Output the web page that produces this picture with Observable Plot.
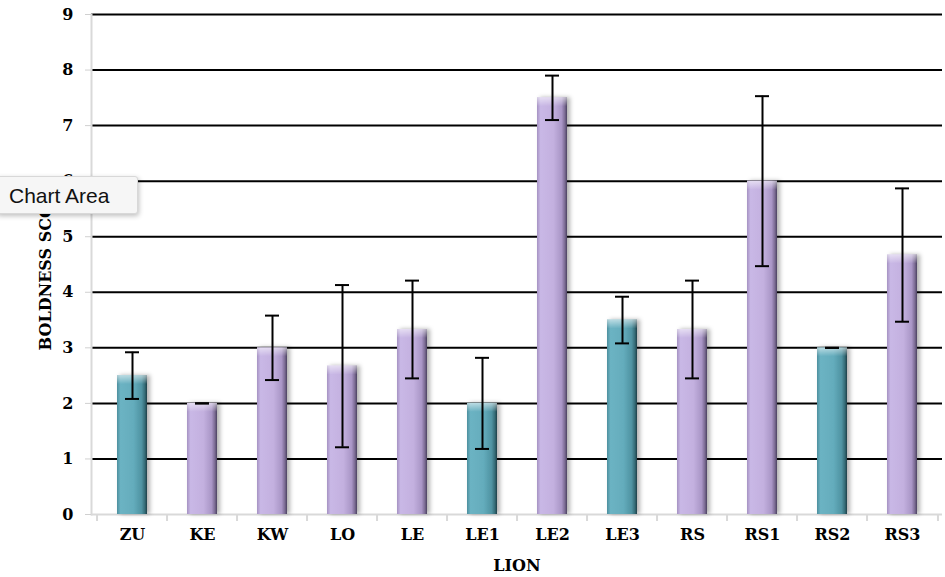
<!DOCTYPE html>
<html>
<head>
<meta charset="utf-8">
<script src="https://cdn.jsdelivr.net/npm/d3@7"></script>
<script src="https://cdn.jsdelivr.net/npm/@observablehq/plot@0.6"></script>
<style>
  html, body { margin: 0; padding: 0; background: #fff; }
  #wrap { position: relative; width: 945px; height: 577px; overflow: hidden; }
  #tip {
    position: absolute; left: -4px; top: 176px; width: 142px; height: 38px;
    background: #f6f6f6; border: 1px solid #d8d8d8; border-radius: 3px;
    box-shadow: 1px 2px 5px rgba(0,0,0,0.25);
    font-family: "Liberation Sans", Arial, sans-serif; font-size: 21px; color: #111;
    line-height: 38px; padding-left: 12px; box-sizing: border-box;
  }
</style>
</head>
<body>
<div id="wrap"><div id="chart"></div><div id="tip">Chart Area</div></div>
<script>
const lions  = ["ZU","KE","KW","LO","LE","LE1","LE2","LE3","RS","RS1","RS2","RS3"];
const scores = [2.5, 2.0, 3.0, 2.67, 3.33, 2.0, 7.5, 3.5, 3.33, 6.0, 3.0, 4.67];
const errors = [0.42, 0, 0.58, 1.46, 0.88, 0.82, 0.4, 0.42, 0.88, 1.53, 0, 1.2];
const groups = ["teal","purple","purple","purple","purple","teal","purple","teal","purple","purple","teal","purple"];
const yTicks = [0,1,2,3,4,5,6,7,8,9];

const data = lions.map((l, i) => ({lion: l, score: scores[i], err: errors[i], group: groups[i]}));
const teal = data.filter(d => d.group === "teal");
const purple = data.filter(d => d.group === "purple");

const W = 945, H = 577, ML = 91, MR = 3;
const band = (W - ML - MR) / lions.length;
const serif = "'DejaVu Serif', serif";
const barIn = {insetLeft: 20, insetRight: 20};

const chart = Plot.plot({
  width: W, height: H,
  marginLeft: ML, marginRight: MR, marginTop: 14, marginBottom: 63,
  style: {fontFamily: serif, fontWeight: "bold", fontSize: "16px", color: "black", background: "white"},
  x: {domain: lions, padding: 0, label: null},
  y: {domain: [0, 9], label: null},
  marks: [
    Plot.gridY(yTicks.slice(1), {stroke: "black", strokeOpacity: 1, strokeWidth: 2}),
    Plot.ruleY([0], {stroke: "#d9d9d9", strokeWidth: 2}),
    Plot.frame({anchor: "left", stroke: "#d9d9d9", strokeWidth: 2}),
    Plot.ruleX(lions, {x: d => d, dx: -band / 2, y1: 0, y2: 0, insetBottom: -7, stroke: "#d9d9d9", strokeWidth: 2}),
    Plot.ruleX([lions[lions.length - 1]], {x: d => d, dx: band / 2, y1: 0, y2: 0, insetBottom: -7, stroke: "#d9d9d9", strokeWidth: 2}),
    Plot.barY(teal, {x: "lion", y: "score", fill: "url(#gTeal)", ...barIn, className: "bar3d"}),
    Plot.barY(purple, {x: "lion", y: "score", fill: "url(#gPurple)", ...barIn, className: "bar3d"}),
    Plot.barY(data, {x: "lion", y1: d => d.score - 0.16, y2: "score", fill: "url(#gTop)", ...barIn}),
    Plot.ruleX(data.filter(d => d.err > 0), {x: "lion", y1: d => d.score - d.err, y2: d => d.score + d.err, stroke: "black", strokeWidth: 2}),
    Plot.tickY(data, {x: "lion", y: d => d.score + d.err, stroke: "black", strokeWidth: 2, insetLeft: 28, insetRight: 28}),
    Plot.tickY(data, {x: "lion", y: d => d.score - d.err, stroke: "black", strokeWidth: 2, insetLeft: 28, insetRight: 28}),
    Plot.axisY(yTicks, {tickSize: 6, tickPadding: 12, fontSize: 16, stroke: "#d0d0d0", fill: "black", tickFormat: d => String(d), label: null}),
    Plot.axisX({tickSize: 0, tickPadding: 14, fontSize: 16, label: null}),
    Plot.text(["LION"], {frameAnchor: "bottom", dy: 56, fontSize: 16, fontWeight: "bold"}),
    Plot.text(["BOLDNESS SCORE"], {frameAnchor: "left", textAnchor: "middle", dx: -46, rotate: -90, fontSize: 16, fontWeight: "bold"})
  ]
});

const svg = d3.select(chart);
const defs = svg.insert("defs", ":first-child");
function grad(id, stops, vertical) {
  const g = defs.append("linearGradient").attr("id", id)
    .attr("x1", "0").attr("y1", "0").attr("x2", vertical ? "0" : "1").attr("y2", vertical ? "1" : "0");
  stops.forEach(([o, c, op]) => g.append("stop").attr("offset", o).attr("stop-color", c).attr("stop-opacity", op == null ? 1 : op));
}
grad("gTeal", [["0", "#4d8f9e"], ["0.12", "#6cb3c3"], ["0.55", "#64acbc"], ["0.82", "#4f93a2"], ["0.93", "#356a76"], ["1", "#1f4047"]]);
grad("gPurple", [["0", "#a592c2"], ["0.12", "#c9b8e6"], ["0.55", "#c3b0df"], ["0.82", "#a996c6"], ["0.93", "#7a6a92"], ["1", "#4c4160"]]);
grad("gTop", [["0", "#ffffff", 0.55], ["1", "#ffffff", 0]], true);
const f = defs.append("filter").attr("id", "shadow").attr("x", "-20%").attr("width", "150%");
f.append("feDropShadow").attr("dx", 3).attr("dy", 0).attr("stdDeviation", 2).attr("flood-color", "#000").attr("flood-opacity", 0.3);
svg.selectAll(".bar3d rect").attr("filter", "url(#shadow)");

document.getElementById("chart").appendChild(chart);
</script>
</body>
</html>
